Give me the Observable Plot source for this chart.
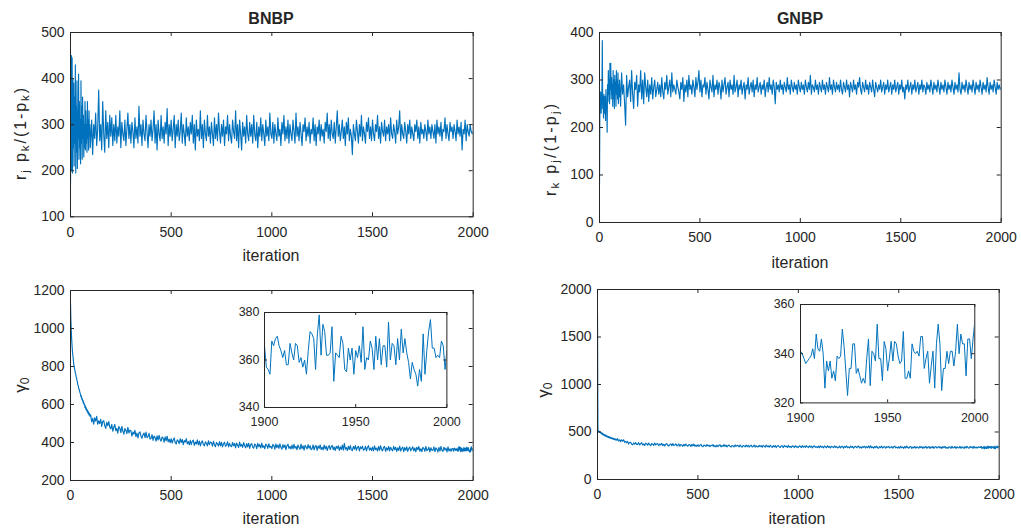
<!DOCTYPE html>
<html><head><meta charset="utf-8">
<script src="https://cdn.jsdelivr.net/npm/d3@7"></script>
<script src="https://cdn.jsdelivr.net/npm/@observablehq/plot@0.6"></script>
<style>
body{margin:0;background:#fff;}
#fig{position:relative;width:1021px;height:531px;background:#fff;overflow:hidden;font-family:"Liberation Sans",Arial,sans-serif;}
</style></head><body><div id="fig"></div>
<script>
// ---------- data ----------
const iterTicks = [0, 500, 1000, 1500, 2000];
const insetTicksX = [1900, 1950, 2000];
const bnbpRatioTicks = [100, 200, 300, 400, 500];
const gnbpRatioTicks = [0, 100, 200, 300, 400];
const bnbpGammaTicks = [200, 400, 600, 800, 1000, 1200];
const gnbpGammaTicks = [0, 500, 1000, 1500, 2000];
const bnbpInsetTicksY = [340, 360, 380];
const gnbpInsetTicksY = [320, 340, 360];

// BNBP r_j p_k/(1-p_k): iterations 0..98 every 2
const bnbpRatioEarly = [172,330,450,200,445,195,400,250,390,210,360,260,430,195,340,240,395,205,330,270,410,225,350,250,310,215,395,260,340,225,360,270,320,230,300,250,350,245,330,260,300,240,350,270,310,245,330,275,300,250];
// iterations 100..2000 every 5
const bnbpRatioLate = [
262,310,235,300,270,325,255,290,375,265,300,245,350,280,240,330,270,305,250,320,
275,315,255,300,265,320,260,295,275,330,250,305,280,265,310,255,290,325,270,300,
260,305,285,250,315,270,295,260,340,275,300,255,310,280,265,320,285,250,300,275,
310,265,290,330,260,300,245,310,280,265,320,270,295,260,305,280,335,255,300,275,
310,265,290,320,250,300,275,310,265,285,325,260,300,280,255,315,275,295,265,305,
280,320,260,300,245,310,275,290,265,330,270,300,250,310,280,265,320,275,295,260,
305,280,255,315,270,300,265,325,285,260,300,275,310,255,295,280,320,265,300,275,
260,310,285,270,330,265,300,250,310,280,245,305,275,295,260,320,280,265,305,275,
300,260,320,280,265,305,250,295,275,315,265,300,280,255,310,275,295,265,325,280,
270,305,260,300,280,265,315,275,290,255,305,280,320,265,295,270,310,260,300,280,
265,310,285,260,325,275,295,265,305,280,255,300,285,315,265,295,275,305,260,290,
280,315,265,300,255,295,280,310,265,300,275,290,260,305,285,325,270,300,265,310,
280,270,305,260,295,330,275,300,265,285,310,270,295,255,305,280,315,265,290,275,
235,300,280,265,310,285,260,300,275,320,265,295,280,260,305,285,315,270,295,265,
310,280,265,300,285,320,270,295,260,305,285,275,310,265,295,280,300,265,315,280,
270,300,285,260,310,280,295,330,265,300,280,270,305,285,260,300,280,310,270,295,
280,265,300,285,310,270,295,260,305,280,290,270,300,285,265,310,280,295,270,300,
285,270,300,260,310,280,295,275,305,265,290,285,315,270,300,280,265,305,285,295,
270,300,285,265,310,280,295,275,305,245,290,280,310,265,300,285,275,300,285,280,
285];

// GNBP r_k p_j/(1-p_j)
const gnbpRatioEarly = [80,260,240,275,230,250,270,383,240,265,220,270,245,230,265,215,280,240,250,190,290,255,320,270,300,250,335,280,335,260,305,270,290,245,320,260,300,240,310,275,295,245,320,270,300,260,315,250,290,265];
const gnbpRatioLate = [
300,245,315,270,290,250,205,310,265,285,300,255,320,270,240,295,280,310,245,290,
275,320,260,300,250,315,285,265,300,255,290,270,305,260,285,300,265,280,295,270,
290,265,305,275,260,295,280,310,270,285,300,265,315,275,290,280,270,300,285,275,
260,295,280,305,255,290,275,300,265,310,280,290,270,300,285,265,305,280,295,320,
275,300,265,290,285,305,270,295,280,260,300,285,275,310,265,290,280,300,270,295,
285,260,300,275,290,305,270,285,295,265,300,280,290,270,310,275,285,300,265,290,
280,300,270,285,295,260,290,280,305,270,285,295,275,300,265,290,280,305,275,285,
295,270,290,280,300,265,285,295,275,305,280,290,270,300,285,250,295,280,290,275,
300,280,290,270,295,285,275,305,280,290,270,300,285,275,295,280,290,270,300,285,
275,295,280,290,270,300,285,275,295,280,310,270,290,285,275,300,280,290,270,295,
285,275,300,280,290,270,295,285,275,305,280,290,270,300,285,275,295,280,290,275,
300,280,270,295,285,275,300,280,290,265,295,285,275,300,280,290,270,295,285,305,
280,270,295,285,275,300,280,290,270,295,285,275,300,280,265,295,285,275,290,280,
300,275,285,295,270,290,280,300,275,285,295,270,290,280,300,275,285,295,270,290,
280,300,275,285,260,290,280,300,275,285,295,270,290,280,300,275,285,295,270,290,
280,300,275,290,285,270,295,280,290,275,300,285,270,295,280,290,275,300,285,270,
295,280,290,275,300,285,270,295,280,290,275,300,285,270,295,280,290,275,315,280,
270,295,280,290,275,300,285,270,295,280,290,275,300,285,270,295,280,290,275,300,
285,270,295,280,290,275,305,285,270,295,280,290,275,300,285,270,295,280,290,280,
285];

// BNBP gamma_0
const bnbpGammaEarly = [1135,1040,985,940,905,875,855,835,815,800,790,780,765,760,745,740,725,722,705,700,690,680,678,665,660,652,640,645,628,632,618,622,605,612,598,600,585,592,575,582,568,574,560,566,552,560,545,552,538,546];
// iterations 100..1895 every 5
const bnbpGammaLate = [
545,509,527,497,530,512,538,496,514,500,522,485,511,515,489,474,506,489,510,481,
472,495,459,480,495,462,474,449,484,475,452,485,460,444,473,464,447,480,450,465,
462,433,455,444,464,431,449,424,451,456,433,422,441,450,425,455,425,431,448,418,
422,441,411,434,427,407,435,413,438,417,407,429,423,402,430,409,433,403,417,399,
420,397,413,424,399,392,414,408,394,420,400,416,389,410,402,420,393,405,388,411,
389,407,412,385,402,392,414,388,407,382,401,408,389,382,403,396,382,409,389,402,
399,381,406,387,378,400,393,381,405,383,401,377,393,401,380,386,404,377,395,382,
378,400,383,395,372,397,387,374,402,380,390,374,399,383,372,394,377,396,369,390,
394,376,370,392,386,367,395,378,389,371,397,374,383,367,391,386,369,393,375,380,
368,390,384,365,392,373,387,369,393,375,365,389,373,387,362,383,391,369,379,366,
386,366,390,370,379,362,387,374,364,391,368,382,360,385,376,366,389,370,383,362,
368,387,361,379,384,359,381,369,387,363,375,361,386,366,381,358,376,383,363,378,
385,362,376,358,380,369,383,358,377,363,386,360,396,365,373,358,380,363,384,361,
357,379,365,384,359,374,380,356,377,368,381,359,364,380,356,374,383,360,371,358,
376,356,382,362,370,355,379,359,383,364,356,374,379,353,372,360,379,356,375,363,
356,380,362,375,353,372,358,381,355,369,376,352,373,359,377,353,369,376,356,367,
377,356,371,351,375,362,379,354,367,352,374,369,353,379,357,362,375,350,372,359,
358,377,352,372,365,350,374,355,379,359,353,375,360,370,350,377,355,367,353,369];
// iterations 1900..2000 every 1 (inset)
const bnbpGammaTail = [366,357,356,354,368,366,369,370,366,364,361,364,358,358,367,363,360,367,366,359,361,357,360,354,364,372,371,369,356,371,379,362,375,372,362,362,363,374,351,363,362,361,370,367,356,355,365,360,365,354,364,361,366,359,374,356,361,360,368,365,356,370,360,369,358,366,366,357,376,360,367,366,358,369,360,373,363,369,363,359,352,359,356,354,349,356,351,371,354,364,372,377,365,365,361,362,361,368,366,356,364];

// GNBP gamma_0
const gnbpGammaEarly = [1735,515,505,510,498,505,495,500,488,495,480,490,475,485,470,478,465,472,460,470,455,465,452,460,448,456,445,452,440,450,438,446,436,442,432,440,428,437,426,434,422,430,420,428,418,425,415,423,413,420];
const gnbpGammaLate = [
430,405,418,397,418,404,418,392,402,389,401,373,389,391,371,365,385,373,388,368,
370,388,363,377,388,364,374,357,382,377,360,384,367,356,378,372,359,383,364,376,
377,356,373,365,380,357,370,352,373,377,360,352,367,375,356,378,357,363,375,354,
359,374,350,368,363,349,370,354,373,358,350,368,364,348,370,354,372,350,361,348,
366,348,361,370,351,345,362,358,348,368,353,362,345,360,354,367,346,356,343,361,
346,360,365,344,357,349,367,347,362,342,358,362,347,343,358,353,344,364,349,359,
357,342,363,348,341,358,353,343,363,345,360,341,354,361,343,348,363,341,356,345,
343,360,347,356,339,359,351,340,363,345,353,340,360,348,338,356,342,357,336,353,
357,342,338,355,351,336,358,345,352,337,359,340,349,336,354,350,336,356,341,346,
336,354,349,335,356,341,351,337,357,343,335,354,341,351,333,349,355,338,346,335,
351,335,354,339,347,333,353,342,334,356,338,349,332,350,343,335,353,338,348,332,
336,352,332,346,350,330,348,339,353,334,344,332,352,337,348,330,344,350,334,346,
351,333,344,330,347,339,350,331,346,335,353,332,354,335,342,330,348,334,351,333,
330,347,336,351,331,343,348,329,346,338,349,332,336,348,329,344,351,333,341,331,
345,329,350,334,341,328,348,332,351,336,329,344,348,327,342,332,348,330,345,336,
330,349,335,345,328,343,332,350,329,340,346,327,344,333,348,328,341,347,331,339,
348,331,343,327,346,336,349,329,339,328,345,341,328,350,332,337,347,327,344,334,
333,348,328,344,339,327,346,331,350,334,329,348,336,344,328,349,332,341,330,343];
const gnbpGammaTail = [341,340,338,336,337,338,339,342,338,348,342,341,346,340,326,337,333,337,330,333,329,339,338,339,350,343,333,323,334,334,344,344,332,334,331,328,330,328,338,346,327,341,340,337,352,338,338,329,345,342,333,338,345,337,345,344,339,336,337,349,330,330,333,330,344,341,340,341,339,347,347,334,338,341,328,335,341,326,344,352,344,325,334,334,341,336,341,341,335,341,352,340,348,344,344,331,346,346,338,346,353];

// ---------- build series ----------
function series(early, late, tail) {
  const rows = [];
  early.forEach((v, i) => rows.push({it: i * 2, v}));
  late.forEach((v, i) => rows.push({it: 100 + i * 5, v}));
  if (tail) tail.forEach((v, i) => rows.push({it: 1900 + i, v}));
  return rows;
}
const tailRows = (tail) => tail.map((v, i) => ({it: 1900 + i, v}));

const fig = document.getElementById("fig");
const COL = "#262626";
const FONT = '"Liberation Sans", Arial, Helvetica, sans-serif';

function draw(cfg) {
  const mL = 50, mR = 12, mT = 10, mB = 30;
  const iw = cfg.x1 - cfg.x0, ih = cfg.y1 - cfg.y0;
  const tk = cfg.tick;
  const p = Plot.plot({
    width: iw + mL + mR, height: ih + mT + mB,
    marginLeft: mL, marginRight: mR, marginTop: mT, marginBottom: mB,
    x: {domain: cfg.xDomain}, y: {domain: cfg.yDomain},
    style: {fontFamily: FONT, fontSize: cfg.fs + "px", color: COL, background: "transparent", overflow: "visible"},
    marks: [
      Plot.frame({fill: "white", stroke: null}),
      Plot.line(cfg.data, {x: "it", y: "v", stroke: "#0072BD", strokeWidth: cfg.lw, clip: true}),
      Plot.tickX(cfg.xTicks, {x: d => d, insetTop: ih - tk, stroke: COL}),
      Plot.tickX(cfg.xTicks, {x: d => d, insetBottom: ih - tk, stroke: COL}),
      Plot.tickY(cfg.yTicks, {y: d => d, insetRight: iw - tk, stroke: COL}),
      Plot.tickY(cfg.yTicks, {y: d => d, insetLeft: iw - tk, stroke: COL}),
      Plot.frame({stroke: COL, strokeWidth: 1}),
      Plot.axisX(cfg.xTicks, {tickSize: 0, tickPadding: cfg.padX, label: null, fill: COL, fontSize: cfg.fs, tickFormat: d => String(d)}),
      Plot.axisY(cfg.yTicks, {tickSize: 0, tickPadding: cfg.padY, label: null, fill: COL, fontSize: cfg.fs, tickFormat: d => String(d)})
    ]
  });
  p.style.position = "absolute";
  p.style.left = (cfg.x0 - mL) + "px";
  p.style.top = (cfg.y0 - mT) + "px";
  fig.appendChild(p);
}

draw({x0: 70, x1: 472.7, y0: 31.7, y1: 216, xDomain: [0, 2000], yDomain: [100, 500],
      xTicks: iterTicks, yTicks: bnbpRatioTicks, data: series(bnbpRatioEarly, bnbpRatioLate),
      tick: 4, fs: 14, padX: 10, padY: 6, lw: 1.15});
draw({x0: 599, x1: 1000.7, y0: 32.3, y1: 222.3, xDomain: [0, 2000], yDomain: [0, 400],
      xTicks: iterTicks, yTicks: gnbpRatioTicks, data: series(gnbpRatioEarly, gnbpRatioLate),
      tick: 4, fs: 14, padX: 10, padY: 6, lw: 1.15});
draw({x0: 70, x1: 472.7, y0: 290, y1: 480, xDomain: [0, 2000], yDomain: [200, 1200],
      xTicks: iterTicks, yTicks: bnbpGammaTicks, data: series(bnbpGammaEarly, bnbpGammaLate, bnbpGammaTail),
      tick: 4, fs: 14, padX: 10, padY: 6, lw: 1.15});
draw({x0: 597.3, x1: 999, y0: 289, y1: 479, xDomain: [0, 2000], yDomain: [0, 2000],
      xTicks: iterTicks, yTicks: gnbpGammaTicks, data: series(gnbpGammaEarly, gnbpGammaLate, gnbpGammaTail),
      tick: 4, fs: 14, padX: 10, padY: 6, lw: 1.15});
// insets
draw({x0: 264.3, x1: 446.7, y0: 311.7, y1: 406.7, xDomain: [1900, 2000], yDomain: [340, 380],
      xTicks: insetTicksX, yTicks: bnbpInsetTicksY, data: tailRows(bnbpGammaTail),
      tick: 3, fs: 12.5, padX: 10, padY: 5, lw: 1});
draw({x0: 800, x1: 974.3, y0: 304.3, y1: 402.7, xDomain: [1900, 2000], yDomain: [320, 360],
      xTicks: insetTicksX, yTicks: gnbpInsetTicksY, data: tailRows(gnbpGammaTail),
      tick: 3, fs: 12.5, padX: 10, padY: 6, lw: 1});

// ---------- text labels ----------
const ov = d3.select(fig).append("svg")
  .attr("width", 1021).attr("height", 531)
  .style("position", "absolute").style("left", 0).style("top", 0)
  .style("pointer-events", "none")
  .attr("font-family", FONT).attr("fill", COL);

function label(x, y, parts, {size = 16, weight = "normal", rotate = 0, spanLength = null} = {}) {
  const t = ov.append("text")
    .attr("transform", `translate(${x},${y}) rotate(${rotate})`)
    .attr("text-anchor", "middle")
    .attr("dominant-baseline", "central")
    .attr("font-size", size)
    .attr("font-weight", weight);
  let down = false;
  const sh = size * 0.32;
  for (const [s, sub] of parts) {
    const ts = t.append("tspan").text(s);
    if (sub) ts.attr("font-size", size * 0.72);
    if (sub && !down) { ts.attr("dy", sh); down = true; }
    else if (!sub && down) { ts.attr("dy", -sh); down = false; }
  }
  if (spanLength) t.attr("textLength", spanLength).attr("lengthAdjust", "spacing");
}

label(271, 18, [["BNBP"]], {size: 16, weight: "bold"});
label(800, 18, [["GNBP"]], {size: 16, weight: "bold"});
label(271, 255, [["iteration"]]);
label(800, 262, [["iteration"]]);
label(271, 518, [["iteration"]]);
label(797, 518, [["iteration"]]);
label(20, 134, [["r"], ["j", 1], [" p"], ["k", 1], ["/(1-p"], ["k", 1], [")"]], {rotate: -90, size: 16, spanLength: 92});
label(550, 150, [["r"], ["k", 1], [" p"], ["j", 1], ["/(1-p"], ["j", 1], [")"]], {rotate: -90, size: 16, spanLength: 92});
label(20, 385, [["γ"], ["0", 1]], {rotate: -90, size: 17});
label(543, 390, [["γ"], ["0", 1]], {rotate: -90, size: 17});
</script>
</body></html>
